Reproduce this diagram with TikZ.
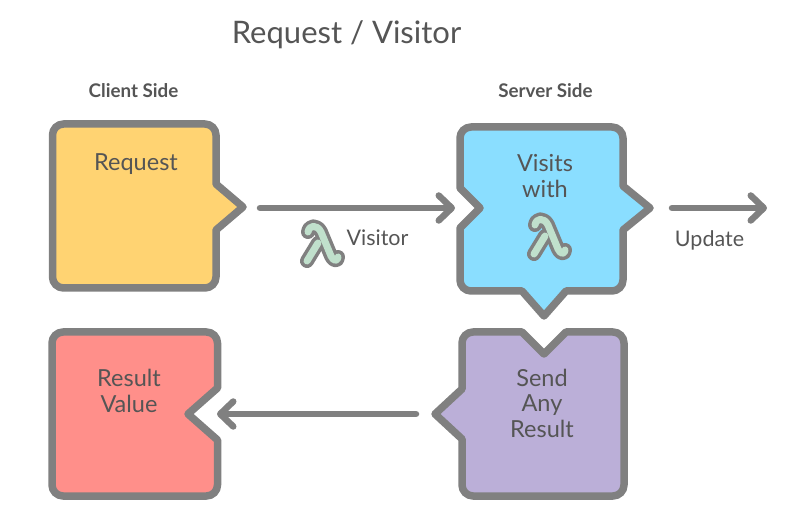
\documentclass[tikz,border=0pt]{standalone}
\usepackage{fontspec}
\setmainfont{Lato}
\usetikzlibrary{arrows.meta}
\definecolor{edgegray}{HTML}{808080}
\definecolor{txt}{HTML}{555555}
\definecolor{lamfill}{HTML}{C0E0CC}
\definecolor{reqfill}{HTML}{FFD372}
\definecolor{visfill}{HTML}{8ADEFF}
\definecolor{sendfill}{HTML}{BBAFD8}
\definecolor{resfill}{HTML}{FF8F8A}
\tikzset{
  x=1pt,y=-1pt,
  box/.style={draw=edgegray,line width=7.5pt,line join=round,rounded corners=11pt},
  lbl/.style={text=txt,font=\fontsize{23.5}{25.5}\selectfont,align=center,inner sep=0pt},
  smalllbl/.style={text=txt,font=\fontsize{21.5}{24}\selectfont,inner sep=0pt},
  head/.style={text=txt,font=\fontsize{18.8}{22}\bfseries\selectfont,inner sep=0pt},
  conn/.style={draw=edgegray,line width=6.5pt,line cap=round,line join=round,
    -{Straight Barb[length=13pt,width=25pt,round]}},
  pics/lambda/.style={code={
    \foreach \c/\w in {edgegray/14pt,lamfill/7pt}{
      \draw[\c,line width=\w,line cap=round,line join=round]
        (-14,-13) .. controls (-13,-20) and (-5,-21) .. (-1,-13)
        -- (9,11) .. controls (11,16) and (16,17) .. (16,12);
      \draw[\c,line width=\w,line cap=round] (-4,-2) -- (-15,16);
    }
  }}
}
\begin{document}
\begin{tikzpicture}
\useasboundingbox (0,0) rectangle (795,518);
% boxes
\draw[box,fill=reqfill]
  (134,124) -- (216,124) -- (216,170)
  {[sharp corners] -- (216,184) -- (243,207) -- (216,230) -- (216,244)}
  -- (216,288) -- (52.5,288) -- (52.5,124) -- cycle;
\draw[box,fill=visfill]
  (544,127) -- (623,127) -- (623,170)
  {[sharp corners] -- (623,186) -- (650,208) -- (623,230) -- (623,250)}
  -- (623,291) -- (590,291)
  {[sharp corners] -- (566,291) -- (544,316) -- (522,291) -- (500,291)}
  -- (460,291) -- (460,250)
  {[sharp corners] -- (460,228) -- (480,208) -- (460,188) -- (460,170)}
  -- (460,127) -- cycle;
\draw[box,fill=sendfill]
  (544,354) {[sharp corners] -- (566,332) -- (590,332)}
  -- (624,332) -- (624,496) -- (462,496) -- (462,460)
  {[sharp corners] -- (462,439) -- (435,414) -- (462,389) -- (462,370)}
  -- (462,332) -- (500,332)
  {[sharp corners] -- (522,332) -- cycle};
\draw[box,fill=resfill]
  (134,332) -- (217.5,332) -- (217.5,370)
  {[sharp corners] -- (217.5,388) -- (188,414) -- (217.5,440) -- (217.5,460)}
  -- (217.5,496) -- (52,496) -- (52,332) -- cycle;
% anchors for connectors
\coordinate (visitorStart) at (260,208);
\coordinate (visitorEnd) at (455,208);
\coordinate (updateStart) at (672,208);
\coordinate (updateEnd) at (767,208);
\coordinate (resultStart) at (416,414);
\coordinate (resultEnd) at (217,414);
\draw[conn] (visitorStart) -- (visitorEnd);
\draw[conn] (updateStart) -- (updateEnd);
\draw[conn] (resultStart) -- (resultEnd);
% lambdas
\pic at (322,245) {lambda};
\pic at (549,238) {lambda};
% text
\node[text=txt,font=\fontsize{31}{36}\selectfont,inner sep=0pt] (title) at (346.5,34.5) {Request / Visitor};
\node[head] (client) at (133.5,91) {Client Side};
\node[head] (server) at (545.5,91) {Server Side};
\node[lbl] (request) at (136,164) {Request};
\node[lbl] (visits) at (545,176) {Visits\\with};
\node[lbl] (send) at (542,403) {Send\\Any\\Result};
\node[lbl] (result) at (129,391) {Result\\Value};
\node[smalllbl] (visitor) at (377.5,238) {Visitor};
\node[smalllbl] (update) at (709.5,240) {Update};
\end{tikzpicture}
\end{document}
